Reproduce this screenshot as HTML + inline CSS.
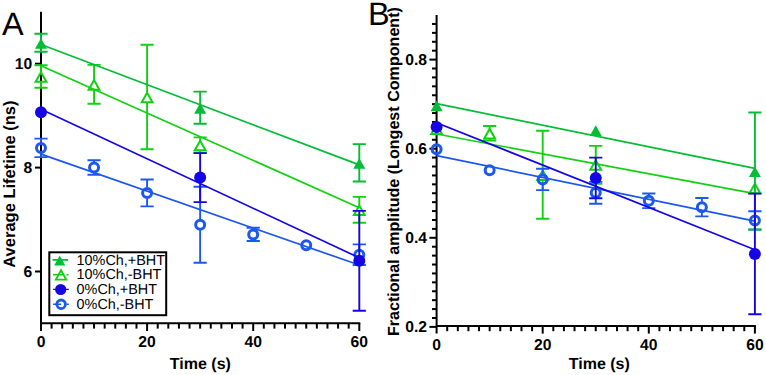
<!DOCTYPE html>
<html><head><meta charset="utf-8"><style>
html,body{margin:0;padding:0;background:#fff;}
svg{display:block;}
text{font-family:"Liberation Sans",sans-serif;fill:#000;text-rendering:geometricPrecision;}
.tl{font-size:15.7px;font-weight:bold;}
.al{font-size:16px;font-weight:bold;}
.pl{font-size:32.5px;}
.lg{font-size:14.4px;}
</style></head><body>
<svg width="766" height="375" viewBox="0 0 766 375">
<rect width="766" height="375" fill="#fff"/>
<path d="M41 11.8V331M40 323.2H360.3" stroke="#000" stroke-width="2" fill="none"/>
<path d="M35 271.5H41" stroke="#000" stroke-width="2"/>
<text x="32.2" y="276.9" text-anchor="end" class="tl">6</text>
<path d="M35 167.6H41" stroke="#000" stroke-width="2"/>
<text x="32.2" y="173" text-anchor="end" class="tl">8</text>
<path d="M35 63.7H41" stroke="#000" stroke-width="2"/>
<text x="32.2" y="69.1" text-anchor="end" class="tl">10</text>
<text x="41" y="347.3" text-anchor="middle" class="tl">0</text>
<path d="M51.61 323.2V328.6" stroke="#000" stroke-width="2"/>
<path d="M62.22 323.2V328.6" stroke="#000" stroke-width="2"/>
<path d="M72.83 323.2V328.6" stroke="#000" stroke-width="2"/>
<path d="M83.44 323.2V328.6" stroke="#000" stroke-width="2"/>
<path d="M94.05 323.2V328.6" stroke="#000" stroke-width="2"/>
<path d="M104.66 323.2V328.6" stroke="#000" stroke-width="2"/>
<path d="M115.27 323.2V328.6" stroke="#000" stroke-width="2"/>
<path d="M125.88 323.2V328.6" stroke="#000" stroke-width="2"/>
<path d="M136.49 323.2V328.6" stroke="#000" stroke-width="2"/>
<path d="M147.1 323.2V331" stroke="#000" stroke-width="2"/>
<text x="147.1" y="347.3" text-anchor="middle" class="tl">20</text>
<path d="M157.71 323.2V328.6" stroke="#000" stroke-width="2"/>
<path d="M168.32 323.2V328.6" stroke="#000" stroke-width="2"/>
<path d="M178.93 323.2V328.6" stroke="#000" stroke-width="2"/>
<path d="M189.54 323.2V328.6" stroke="#000" stroke-width="2"/>
<path d="M200.15 323.2V328.6" stroke="#000" stroke-width="2"/>
<path d="M210.76 323.2V328.6" stroke="#000" stroke-width="2"/>
<path d="M221.37 323.2V328.6" stroke="#000" stroke-width="2"/>
<path d="M231.98 323.2V328.6" stroke="#000" stroke-width="2"/>
<path d="M242.59 323.2V328.6" stroke="#000" stroke-width="2"/>
<path d="M253.2 323.2V331" stroke="#000" stroke-width="2"/>
<text x="253.2" y="347.3" text-anchor="middle" class="tl">40</text>
<path d="M263.81 323.2V328.6" stroke="#000" stroke-width="2"/>
<path d="M274.42 323.2V328.6" stroke="#000" stroke-width="2"/>
<path d="M285.03 323.2V328.6" stroke="#000" stroke-width="2"/>
<path d="M295.64 323.2V328.6" stroke="#000" stroke-width="2"/>
<path d="M306.25 323.2V328.6" stroke="#000" stroke-width="2"/>
<path d="M316.86 323.2V328.6" stroke="#000" stroke-width="2"/>
<path d="M327.47 323.2V328.6" stroke="#000" stroke-width="2"/>
<path d="M338.08 323.2V328.6" stroke="#000" stroke-width="2"/>
<path d="M348.69 323.2V328.6" stroke="#000" stroke-width="2"/>
<path d="M359.3 323.2V331" stroke="#000" stroke-width="2"/>
<text x="359.3" y="347.3" text-anchor="middle" class="tl">60</text>
<text x="200.4" y="369" text-anchor="middle" class="al">Time (s)</text>
<text transform="translate(14.6,184.1) rotate(-90)" text-anchor="middle" class="al" style="font-size:16.5px">Average Lifetime (ns)</text>
<text x="2.1" y="34.7" class="pl">A</text>
<path d="M436.6 15V333.6M435.6 326H755.9" stroke="#000" stroke-width="2" fill="none"/>
<path d="M429.4 326.9H436.6" stroke="#000" stroke-width="2"/>
<text x="427" y="332.3" text-anchor="end" class="tl">0.2</text>
<path d="M432 317.99H436.6" stroke="#000" stroke-width="2"/>
<path d="M432 309.08H436.6" stroke="#000" stroke-width="2"/>
<path d="M432 300.17H436.6" stroke="#000" stroke-width="2"/>
<path d="M432 291.26H436.6" stroke="#000" stroke-width="2"/>
<path d="M432 282.35H436.6" stroke="#000" stroke-width="2"/>
<path d="M432 273.44H436.6" stroke="#000" stroke-width="2"/>
<path d="M432 264.53H436.6" stroke="#000" stroke-width="2"/>
<path d="M432 255.62H436.6" stroke="#000" stroke-width="2"/>
<path d="M432 246.71H436.6" stroke="#000" stroke-width="2"/>
<path d="M429.4 237.8H436.6" stroke="#000" stroke-width="2"/>
<text x="427" y="243.2" text-anchor="end" class="tl">0.4</text>
<path d="M432 228.89H436.6" stroke="#000" stroke-width="2"/>
<path d="M432 219.98H436.6" stroke="#000" stroke-width="2"/>
<path d="M432 211.07H436.6" stroke="#000" stroke-width="2"/>
<path d="M432 202.16H436.6" stroke="#000" stroke-width="2"/>
<path d="M432 193.25H436.6" stroke="#000" stroke-width="2"/>
<path d="M432 184.34H436.6" stroke="#000" stroke-width="2"/>
<path d="M432 175.43H436.6" stroke="#000" stroke-width="2"/>
<path d="M432 166.52H436.6" stroke="#000" stroke-width="2"/>
<path d="M432 157.61H436.6" stroke="#000" stroke-width="2"/>
<path d="M429.4 148.7H436.6" stroke="#000" stroke-width="2"/>
<text x="427" y="154.1" text-anchor="end" class="tl">0.6</text>
<path d="M432 139.79H436.6" stroke="#000" stroke-width="2"/>
<path d="M432 130.88H436.6" stroke="#000" stroke-width="2"/>
<path d="M432 121.97H436.6" stroke="#000" stroke-width="2"/>
<path d="M432 113.06H436.6" stroke="#000" stroke-width="2"/>
<path d="M432 104.15H436.6" stroke="#000" stroke-width="2"/>
<path d="M432 95.24H436.6" stroke="#000" stroke-width="2"/>
<path d="M432 86.33H436.6" stroke="#000" stroke-width="2"/>
<path d="M432 77.42H436.6" stroke="#000" stroke-width="2"/>
<path d="M432 68.51H436.6" stroke="#000" stroke-width="2"/>
<path d="M429.4 59.6H436.6" stroke="#000" stroke-width="2"/>
<text x="427" y="65" text-anchor="end" class="tl">0.8</text>
<path d="M432 50.69H436.6" stroke="#000" stroke-width="2"/>
<path d="M432 41.78H436.6" stroke="#000" stroke-width="2"/>
<path d="M432 32.87H436.6" stroke="#000" stroke-width="2"/>
<path d="M432 23.96H436.6" stroke="#000" stroke-width="2"/>
<text x="436.6" y="350.3" text-anchor="middle" class="tl">0</text>
<path d="M447.21 326V331.2" stroke="#000" stroke-width="2"/>
<path d="M457.82 326V331.2" stroke="#000" stroke-width="2"/>
<path d="M468.43 326V331.2" stroke="#000" stroke-width="2"/>
<path d="M479.04 326V331.2" stroke="#000" stroke-width="2"/>
<path d="M489.65 326V331.2" stroke="#000" stroke-width="2"/>
<path d="M500.26 326V331.2" stroke="#000" stroke-width="2"/>
<path d="M510.87 326V331.2" stroke="#000" stroke-width="2"/>
<path d="M521.48 326V331.2" stroke="#000" stroke-width="2"/>
<path d="M532.09 326V331.2" stroke="#000" stroke-width="2"/>
<path d="M542.7 326V333.6" stroke="#000" stroke-width="2"/>
<text x="542.7" y="350.3" text-anchor="middle" class="tl">20</text>
<path d="M553.31 326V331.2" stroke="#000" stroke-width="2"/>
<path d="M563.92 326V331.2" stroke="#000" stroke-width="2"/>
<path d="M574.53 326V331.2" stroke="#000" stroke-width="2"/>
<path d="M585.14 326V331.2" stroke="#000" stroke-width="2"/>
<path d="M595.75 326V331.2" stroke="#000" stroke-width="2"/>
<path d="M606.36 326V331.2" stroke="#000" stroke-width="2"/>
<path d="M616.97 326V331.2" stroke="#000" stroke-width="2"/>
<path d="M627.58 326V331.2" stroke="#000" stroke-width="2"/>
<path d="M638.19 326V331.2" stroke="#000" stroke-width="2"/>
<path d="M648.8 326V333.6" stroke="#000" stroke-width="2"/>
<text x="648.8" y="350.3" text-anchor="middle" class="tl">40</text>
<path d="M659.41 326V331.2" stroke="#000" stroke-width="2"/>
<path d="M670.02 326V331.2" stroke="#000" stroke-width="2"/>
<path d="M680.63 326V331.2" stroke="#000" stroke-width="2"/>
<path d="M691.24 326V331.2" stroke="#000" stroke-width="2"/>
<path d="M701.85 326V331.2" stroke="#000" stroke-width="2"/>
<path d="M712.46 326V331.2" stroke="#000" stroke-width="2"/>
<path d="M723.07 326V331.2" stroke="#000" stroke-width="2"/>
<path d="M733.68 326V331.2" stroke="#000" stroke-width="2"/>
<path d="M744.29 326V331.2" stroke="#000" stroke-width="2"/>
<path d="M754.9 326V333.6" stroke="#000" stroke-width="2"/>
<text x="754.9" y="350.3" text-anchor="middle" class="tl">60</text>
<text x="599.3" y="368.6" text-anchor="middle" class="al">Time (s)</text>
<text transform="translate(399.4,171.6) rotate(-90)" text-anchor="middle" class="al" style="font-size:16.1px">Fractional amplitude (Longest Component)</text>
<text x="367.9" y="24.8" class="pl">B</text>
<path d="M41 72.2V65.2M34.4 65.2H47.6" stroke="#10d210" stroke-width="1.9" fill="none"/><path d="M41 81.8V87.8M34.4 87.8H47.6" stroke="#10d210" stroke-width="1.9" fill="none"/>
<path d="M94.05 80.05V64.9M87.45 64.9H100.65" stroke="#10d210" stroke-width="1.9" fill="none"/><path d="M94.05 89.65V103.8M87.45 103.8H100.65" stroke="#10d210" stroke-width="1.9" fill="none"/>
<path d="M147.1 92.75V44.8M140.5 44.8H153.7" stroke="#10d210" stroke-width="1.9" fill="none"/><path d="M147.1 102.35V149.3M140.5 149.3H153.7" stroke="#10d210" stroke-width="1.9" fill="none"/>
<path d="M200.15 140.7V137.4M193.55 137.4H206.75" stroke="#10d210" stroke-width="1.9" fill="none"/><path d="M200.15 150.3V152.6M193.55 152.6H206.75" stroke="#10d210" stroke-width="1.9" fill="none"/>
<path d="M359.3 205.5V196.9M352.7 196.9H365.9" stroke="#10d210" stroke-width="1.9" fill="none"/><path d="M359.3 215.1V222.7M352.7 222.7H365.9" stroke="#10d210" stroke-width="1.9" fill="none"/>
<path d="M35.6 81.8L46.4 81.8L41 72.2Z" fill="none" stroke="#10d210" stroke-width="2" stroke-linejoin="miter"/>
<path d="M88.65 89.65L99.45 89.65L94.05 80.05Z" fill="none" stroke="#10d210" stroke-width="2" stroke-linejoin="miter"/>
<path d="M141.7 102.35L152.5 102.35L147.1 92.75Z" fill="none" stroke="#10d210" stroke-width="2" stroke-linejoin="miter"/>
<path d="M194.75 150.3L205.55 150.3L200.15 140.7Z" fill="none" stroke="#10d210" stroke-width="2" stroke-linejoin="miter"/>
<path d="M353.9 215.1L364.7 215.1L359.3 205.5Z" fill="none" stroke="#10d210" stroke-width="2" stroke-linejoin="miter"/>
<path d="M41 65.73L359.3 207.7" stroke="#10d210" stroke-width="1.7" fill="none"/>
<path d="M41 142.4V138.6M34.4 138.6H47.6" stroke="#1c58f0" stroke-width="1.9" fill="none"/><path d="M41 153.4V157.1M34.4 157.1H47.6" stroke="#1c58f0" stroke-width="1.9" fill="none"/>
<path d="M94.05 162.05V160.3M87.45 160.3H100.65" stroke="#1c58f0" stroke-width="1.9" fill="none"/><path d="M94.05 173.05V174.8M87.45 174.8H100.65" stroke="#1c58f0" stroke-width="1.9" fill="none"/>
<path d="M147.1 187.45V179.5M140.5 179.5H153.7" stroke="#1c58f0" stroke-width="1.9" fill="none"/><path d="M147.1 198.45V206.4M140.5 206.4H153.7" stroke="#1c58f0" stroke-width="1.9" fill="none"/>
<path d="M200.15 219.2V186.7M193.55 186.7H206.75" stroke="#1c58f0" stroke-width="1.9" fill="none"/><path d="M200.15 230.2V262.7M193.55 262.7H206.75" stroke="#1c58f0" stroke-width="1.9" fill="none"/>
<path d="M253.2 228.9V227.8M246.6 227.8H259.8" stroke="#1c58f0" stroke-width="1.9" fill="none"/><path d="M253.2 239.9V241M246.6 241H259.8" stroke="#1c58f0" stroke-width="1.9" fill="none"/>

<path d="M359.3 249.2V244.4M352.7 244.4H365.9" stroke="#1c58f0" stroke-width="1.9" fill="none"/><path d="M359.3 260.2V265M352.7 265H365.9" stroke="#1c58f0" stroke-width="1.9" fill="none"/>
<circle cx="41" cy="147.9" r="4.5" fill="none" stroke="#1c58f0" stroke-width="3"/>
<circle cx="94.05" cy="167.55" r="4.5" fill="none" stroke="#1c58f0" stroke-width="3"/>
<circle cx="147.1" cy="192.95" r="4.5" fill="none" stroke="#1c58f0" stroke-width="3"/>
<circle cx="200.15" cy="224.7" r="4.5" fill="none" stroke="#1c58f0" stroke-width="3"/>
<circle cx="253.2" cy="234.4" r="4.5" fill="none" stroke="#1c58f0" stroke-width="3"/>
<circle cx="306.25" cy="245.3" r="4.5" fill="none" stroke="#1c58f0" stroke-width="3"/>
<circle cx="359.3" cy="254.7" r="4.5" fill="none" stroke="#1c58f0" stroke-width="3"/>
<path d="M41 154.15L359.3 265.07" stroke="#1c58f0" stroke-width="1.7" fill="none"/>
<path d="M41 42.8V33.8M34.4 33.8H47.6" stroke="#03bd36" stroke-width="1.9" fill="none"/><path d="M41 42.8V51.8M34.4 51.8H47.6" stroke="#03bd36" stroke-width="1.9" fill="none"/>
<path d="M200.15 107.65V91.6M193.55 91.6H206.75" stroke="#03bd36" stroke-width="1.9" fill="none"/><path d="M200.15 107.65V123.7M193.55 123.7H206.75" stroke="#03bd36" stroke-width="1.9" fill="none"/>
<path d="M359.3 162.8V144.1M352.7 144.1H365.9" stroke="#03bd36" stroke-width="1.9" fill="none"/><path d="M359.3 162.8V181.5M352.7 181.5H365.9" stroke="#03bd36" stroke-width="1.9" fill="none"/>
<path d="M35 48.8L47 48.8L41 38.2Z" fill="#03bd36"/>
<path d="M194.15 113.65L206.15 113.65L200.15 103.05Z" fill="#03bd36"/>
<path d="M353.3 168.8L365.3 168.8L359.3 158.2Z" fill="#03bd36"/>
<path d="M41 44.5L359.3 164.9" stroke="#03bd36" stroke-width="1.7" fill="none"/>

<path d="M200.15 177.6V153.1M193.55 153.1H206.75" stroke="#1606e6" stroke-width="1.9" fill="none"/><path d="M200.15 177.6V202.1M193.55 202.1H206.75" stroke="#1606e6" stroke-width="1.9" fill="none"/>
<path d="M359.3 260.8V210.9M352.7 210.9H365.9" stroke="#1606e6" stroke-width="1.9" fill="none"/><path d="M359.3 260.8V310.7M352.7 310.7H365.9" stroke="#1606e6" stroke-width="1.9" fill="none"/>
<circle cx="41" cy="112.2" r="6" fill="#1606e6"/>
<circle cx="200.15" cy="177.6" r="6" fill="#1606e6"/>
<circle cx="359.3" cy="260.8" r="6" fill="#1606e6"/>
<path d="M41 109.2L359.3 257.8" stroke="#1606e6" stroke-width="1.7" fill="none"/>

<path d="M489.65 128.9V126M483.05 126H496.25" stroke="#10d210" stroke-width="1.9" fill="none"/><path d="M489.65 138.5V140.5M483.05 140.5H496.25" stroke="#10d210" stroke-width="1.9" fill="none"/>
<path d="M542.7 170.5V130.8M536.1 130.8H549.3" stroke="#10d210" stroke-width="1.9" fill="none"/><path d="M542.7 180.1V218.8M536.1 218.8H549.3" stroke="#10d210" stroke-width="1.9" fill="none"/>
<path d="M595.75 160.2V145.9M589.15 145.9H602.35" stroke="#10d210" stroke-width="1.9" fill="none"/><path d="M595.75 169.8V183.7M589.15 183.7H602.35" stroke="#10d210" stroke-width="1.9" fill="none"/>

<path d="M431.2 133.9L442 133.9L436.6 124.3Z" fill="none" stroke="#10d210" stroke-width="2" stroke-linejoin="miter"/>
<path d="M484.25 138.5L495.05 138.5L489.65 128.9Z" fill="none" stroke="#10d210" stroke-width="2" stroke-linejoin="miter"/>
<path d="M537.3 180.1L548.1 180.1L542.7 170.5Z" fill="none" stroke="#10d210" stroke-width="2" stroke-linejoin="miter"/>
<path d="M590.35 169.8L601.15 169.8L595.75 160.2Z" fill="none" stroke="#10d210" stroke-width="2" stroke-linejoin="miter"/>
<path d="M749.5 193.3L760.3 193.3L754.9 183.7Z" fill="none" stroke="#10d210" stroke-width="2" stroke-linejoin="miter"/>
<path d="M436.6 134L754.9 193.6" stroke="#10d210" stroke-width="1.7" fill="none"/>


<path d="M542.7 173.95V168.8M536.1 168.8H549.3" stroke="#1c58f0" stroke-width="1.9" fill="none"/><path d="M542.7 184.95V190.1M536.1 190.1H549.3" stroke="#1c58f0" stroke-width="1.9" fill="none"/>
<path d="M595.75 187.3V181.9M589.15 181.9H602.35" stroke="#1c58f0" stroke-width="1.9" fill="none"/><path d="M595.75 198.3V203.7M589.15 203.7H602.35" stroke="#1c58f0" stroke-width="1.9" fill="none"/>
<path d="M648.8 195.3V193.5M642.2 193.5H655.4" stroke="#1c58f0" stroke-width="1.9" fill="none"/><path d="M648.8 206.3V208.1M642.2 208.1H655.4" stroke="#1c58f0" stroke-width="1.9" fill="none"/>
<path d="M701.85 201.7V198M695.25 198H708.45" stroke="#1c58f0" stroke-width="1.9" fill="none"/><path d="M701.85 212.7V216.4M695.25 216.4H708.45" stroke="#1c58f0" stroke-width="1.9" fill="none"/>
<path d="M754.9 214.9V211.2M748.3 211.2H761.5" stroke="#1c58f0" stroke-width="1.9" fill="none"/><path d="M754.9 225.9V229.6M748.3 229.6H761.5" stroke="#1c58f0" stroke-width="1.9" fill="none"/>
<circle cx="436.6" cy="149.2" r="4.5" fill="none" stroke="#1c58f0" stroke-width="3"/>
<circle cx="489.65" cy="170.2" r="4.5" fill="none" stroke="#1c58f0" stroke-width="3"/>
<circle cx="542.7" cy="179.45" r="4.5" fill="none" stroke="#1c58f0" stroke-width="3"/>
<circle cx="595.75" cy="192.8" r="4.5" fill="none" stroke="#1c58f0" stroke-width="3"/>
<circle cx="648.8" cy="200.8" r="4.5" fill="none" stroke="#1c58f0" stroke-width="3"/>
<circle cx="701.85" cy="207.2" r="4.5" fill="none" stroke="#1c58f0" stroke-width="3"/>
<circle cx="754.9" cy="220.4" r="4.5" fill="none" stroke="#1c58f0" stroke-width="3"/>
<path d="M436.6 155.6L754.9 221.1" stroke="#1c58f0" stroke-width="1.7" fill="none"/>


<path d="M754.9 171V112.5M748.3 112.5H761.5" stroke="#03bd36" stroke-width="1.9" fill="none"/><path d="M754.9 171V229.5M748.3 229.5H761.5" stroke="#03bd36" stroke-width="1.9" fill="none"/>
<path d="M430.6 111.2L442.6 111.2L436.6 100.6Z" fill="#03bd36"/>
<path d="M589.75 135.9L601.75 135.9L595.75 125.3Z" fill="#03bd36"/>
<path d="M748.9 177L760.9 177L754.9 166.4Z" fill="#03bd36"/>
<path d="M436.6 103.7L754.9 168.4" stroke="#03bd36" stroke-width="1.7" fill="none"/>

<path d="M595.75 177.95V157.6M589.15 157.6H602.35" stroke="#1606e6" stroke-width="1.9" fill="none"/><path d="M595.75 177.95V198.3M589.15 198.3H602.35" stroke="#1606e6" stroke-width="1.9" fill="none"/>
<path d="M754.9 253.9V193.6M748.3 193.6H761.5" stroke="#1606e6" stroke-width="1.9" fill="none"/><path d="M754.9 253.9V314.2M748.3 314.2H761.5" stroke="#1606e6" stroke-width="1.9" fill="none"/>
<circle cx="436.6" cy="126.9" r="6" fill="#1606e6"/>
<circle cx="595.75" cy="177.95" r="6" fill="#1606e6"/>
<circle cx="754.9" cy="253.9" r="6" fill="#1606e6"/>
<path d="M436.6 122.75L754.9 249.75" stroke="#1606e6" stroke-width="1.7" fill="none"/>
<rect x="49.3" y="252.3" width="116.9" height="62.9" fill="#fff" stroke="#000" stroke-width="2"/>
<path d="M52.6 259.9H68" stroke="#03bd36" stroke-width="1.8"/>
<path d="M54.2 265.6L65.2 265.6L59.7 255.6Z" fill="#03bd36"/>
<path d="M53 274.7H63.6M66.5 274.7H68.6" stroke="#10d210" stroke-width="1.5"/>
<path d="M55.9 279.6L66.2 279.6L61 270.3Z" fill="none" stroke="#10d210" stroke-width="1.9"/>
<path d="M53.1 289.4H68.8" stroke="#1606e6" stroke-width="1.3"/>
<circle cx="60.7" cy="289.5" r="5.6" fill="#1606e6"/>
<circle cx="61.1" cy="304.3" r="4.3" fill="none" stroke="#1c58f0" stroke-width="2.8"/>
<path d="M53.1 304.3H61.1M66.5 304.3H68.8" stroke="#1c58f0" stroke-width="1.5"/>
<text x="76.6" y="264.7" class="lg">10%Ch,+BHT</text>
<text x="76.6" y="279.4" class="lg">10%Ch,-BHT</text>
<text x="76.6" y="294.0" class="lg">0%Ch,+BHT</text>
<text x="76.6" y="308.8" class="lg">0%Ch,-BHT</text>
</svg>
</body></html>
